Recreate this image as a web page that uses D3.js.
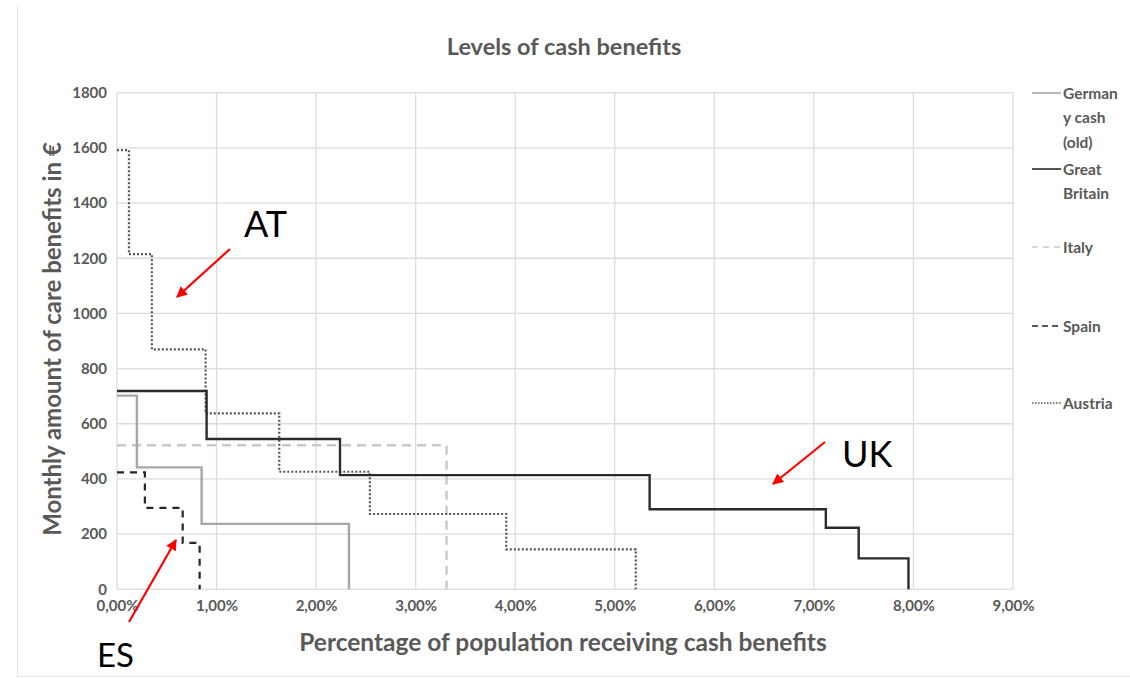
<!DOCTYPE html>
<html>
<head>
<meta charset="utf-8">
<script src="https://cdn.jsdelivr.net/npm/d3@7"></script>
<style>
  html, body { margin: 0; padding: 0; background: #fff; }
  svg { display: block; }
  text { font-family: Lato, "Open Sans", sans-serif; }
</style>
</head>
<body>
<svg id="chart" width="1130" height="678"></svg>
<script>
// ---- data (x in %, step starts; values in €) ----
const seriesNames = ["Germany cash (old)", "Great Britain", "Italy", "Spain", "Austria"];
const germanyX = [0, 0.20, 0.85, 2.33];
const germanyY = [702, 442, 237];
const britainX = [0, 0.90, 2.24, 5.35, 7.12, 7.45, 7.95];
const britainY = [719, 545, 414, 290, 223, 112];
const italyX = [0, 3.31];
const italyY = [522];
const spainX = [0, 0.28, 0.66, 0.83];
const spainY = [424, 295, 168];
const austriaX = [0, 0.12, 0.35, 0.89, 1.63, 2.54, 3.91, 5.21];
const austriaY = [1592, 1215, 870, 638, 426, 273, 145];
const xTicks = [0, 1, 2, 3, 4, 5, 6, 7, 8, 9];
const yTicks = [0, 200, 400, 600, 800, 1000, 1200, 1400, 1600, 1800];
const legendLabels = [["German", "y cash", "(old)"], ["Great", "Britain"], ["Italy"], ["Spain"], ["Austria"]];

const svg = d3.select("#chart");
const plotLeft = 117, plotRight = 1013, plotTop = 92.7, plotBottom = 589.3;
const x = d3.scaleLinear().domain([0, 9]).range([plotLeft, plotRight]);
const y = d3.scaleLinear().domain([0, 1800]).range([plotBottom, plotTop]);

// outer frame lines
svg.append("line").attr("x1", 17.5).attr("x2", 17.5).attr("y1", 6).attr("y2", 677)
  .attr("stroke", "#e3e3e3").attr("stroke-width", 1);
svg.append("line").attr("x1", 17).attr("x2", 1130).attr("y1", 676.5).attr("y2", 676.5)
  .attr("stroke", "#e3e3e3").attr("stroke-width", 1);

// grid
const g = svg.append("g");
g.selectAll("line.v").data(xTicks).join("line")
  .attr("x1", d => x(d)).attr("x2", d => x(d)).attr("y1", y(1800)).attr("y2", y(0))
  .attr("stroke", "#dcdcdc").attr("stroke-width", 1.3);
g.selectAll("line.h").data(yTicks).join("line")
  .attr("x1", x(0)).attr("x2", x(9)).attr("y1", d => y(d)).attr("y2", d => y(d))
  .attr("stroke", "#dcdcdc").attr("stroke-width", 1.3);

// axes (labels only)
const xAxis = d3.axisBottom(x).tickValues(xTicks).tickSize(0).tickPadding(11)
  .tickFormat(d => d3.format(".2f")(d).replace(".", ",") + "%");
const xa = svg.append("g").attr("transform", `translate(0,${plotBottom})`).call(xAxis);
xa.select(".domain").remove();
xa.selectAll("text").attr("font-size", 15).attr("font-weight", "bold").attr("fill", "#595959")
  .attr("font-family", "Lato, sans-serif");

const yAxis = d3.axisLeft(y).tickValues(yTicks).tickSize(0).tickPadding(10).tickFormat(d3.format("d"));
const ya = svg.append("g").attr("transform", `translate(${plotLeft},0)`).call(yAxis);
ya.select(".domain").remove();
ya.selectAll("text").attr("font-size", 15).attr("font-weight", "bold").attr("fill", "#595959")
  .attr("font-family", "Lato, sans-serif");

// series
function pts(xs, ys) {
  const p = ys.map((v, i) => [xs[i], v]);
  p.push([xs[xs.length - 1], 0]);
  return p;
}
const line = d3.line().x(d => x(d[0])).y(d => y(d[1])).curve(d3.curveStepAfter);
const styles = [
  { xs: germanyX, ys: germanyY, color: "#a6a6a6", w: 2.4, dash: null },
  { xs: britainX, ys: britainY, color: "#2b2b2b", w: 2.4, dash: null },
  { xs: italyX, ys: italyY, color: "#c9c9c9", w: 2.4, dash: "9,6" },
  { xs: spainX, ys: spainY, color: "#262626", w: 2.2, dash: "7,6" },
  { xs: austriaX, ys: austriaY, color: "#555555", w: 2.2, dash: "2,2" }
];
const drawOrder = [2, 0, 4, 1, 3];
drawOrder.forEach(i => {
  const s = styles[i];
  svg.append("path").datum(pts(s.xs, s.ys)).attr("d", line)
    .attr("fill", "none").attr("stroke", s.color).attr("stroke-width", s.w)
    .attr("stroke-dasharray", s.dash);
});

// legend
const legendY = [93, 169, 247, 326, 403];
legendLabels.forEach((lines, i) => {
  const s = styles[i];
  svg.append("line").attr("x1", 1032).attr("x2", 1061).attr("y1", legendY[i]).attr("y2", legendY[i])
    .attr("stroke", s.color).attr("stroke-width", i === 4 ? 1.3 : 1.6)
    .attr("stroke-dasharray", i === 2 ? "6,5" : i === 3 ? "6,4" : i === 4 ? "1.5,1.5" : null);
  const t = svg.append("text").attr("x", 1063).attr("y", legendY[i] + 5.5)
    .attr("font-size", 15.5).attr("font-weight", "bold").attr("fill", "#595959");
  lines.forEach((l, j) => t.append("tspan").attr("x", 1063).attr("dy", j === 0 ? 0 : 24.5).text(l));
});

// titles
svg.append("text").attr("x", 564).attr("y", 55).attr("text-anchor", "middle")
  .attr("font-size", 23.5).attr("font-weight", "bold").attr("fill", "#595959")
  .text("Levels of cash benefits");
svg.append("text").attr("x", 563).attr("y", 651).attr("text-anchor", "middle")
  .attr("font-size", 24.5).attr("font-weight", "bold").attr("fill", "#595959")
  .text("Percentage of population receiving cash benefits");
svg.append("text").attr("transform", "translate(61,339) rotate(-90)").attr("text-anchor", "middle")
  .attr("font-size", 24).attr("font-weight", "bold").attr("fill", "#595959")
  .text("Monthly amount of care benefits in €");

// annotations
svg.append("defs").append("marker").attr("id", "ah").attr("viewBox", "0 0 10 10")
  .attr("refX", 9).attr("refY", 5).attr("markerWidth", 5).attr("markerHeight", 5)
  .attr("orient", "auto").attr("markerUnits", "strokeWidth")
  .append("path").attr("d", "M0,0 L10,5 L0,10 z").attr("fill", "#ff0000");
const notes = [
  { label: "AT", tx: 244, ty: 237, fs: 36, x1: 230, y1: 249, x2: 177, y2: 297 },
  { label: "UK", tx: 842, ty: 467, fs: 36, x1: 825, y1: 442, x2: 773, y2: 484 },
  { label: "ES", tx: 97, ty: 667, fs: 33, x1: 129, y1: 622, x2: 176, y2: 540 }
];
notes.forEach(n => {
  svg.append("text").attr("x", n.tx).attr("y", n.ty).attr("font-size", n.fs)
    .attr("font-family", "'Open Sans', sans-serif").attr("fill", "#000").text(n.label);
  svg.append("line").attr("x1", n.x1).attr("y1", n.y1).attr("x2", n.x2).attr("y2", n.y2)
    .attr("stroke", "#ff0000").attr("stroke-width", 2.2).attr("marker-end", "url(#ah)");
});
</script>
</body>
</html>
